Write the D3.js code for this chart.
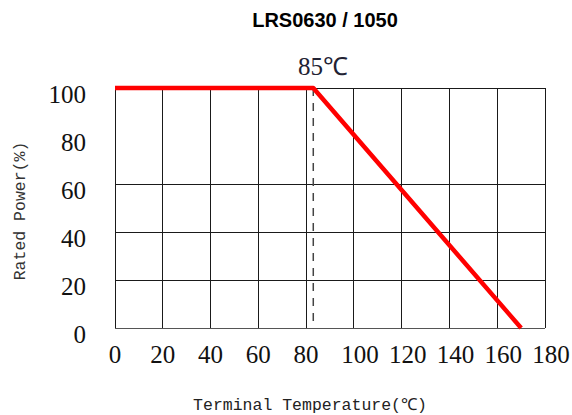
<!DOCTYPE html>
<html>
<head>
<meta charset="utf-8">
<script src="https://cdn.jsdelivr.net/npm/d3@7"></script>
<style>
  html, body { margin: 0; padding: 0; background: #fff; }
  svg { display: block; }
</style>
</head>
<body>
<svg id="chart" width="572" height="415"></svg>
<script>
const title = "LRS0630 / 1050";
const xTicks = [0, 20, 40, 60, 80, 100, 120, 140, 160, 180];
const yTicks = [0, 20, 40, 60, 80, 100];
const yGrid = [0, 20, 40, 60, 100];
const curveTemp = [0, 83, 170];
const curvePower = [100, 100, 0];
const kneeTemp = 83;
const kneeLabel = "85℃";
const xTitle = "Terminal Temperature(℃)";
const yTitle = "Rated Power(%)";

const svg = d3.select("#chart");
const x = d3.scaleLinear().domain([0, 180]).range([115, 545]);
const y = d3.scaleLinear().domain([0, 100]).range([328, 88]);

const serif = "'Liberation Serif', 'Times New Roman', serif";
const mono = "'Liberation Mono', 'DejaVu Sans Mono', monospace";

// title
svg.append("text")
  .attr("x", 325).attr("y", 27)
  .attr("text-anchor", "middle")
  .attr("font-family", "'Liberation Sans', Arial, sans-serif")
  .attr("font-weight", "bold")
  .attr("font-size", 20)
  .attr("fill", "#000")
  .text(title);

// vertical grid lines
svg.append("g").selectAll("line").data(xTicks).join("line")
  .attr("x1", d => x(d)).attr("x2", d => x(d))
  .attr("y1", y(100)).attr("y2", y(0))
  .attr("stroke", "#1a1a1a").attr("stroke-width", 1)
  .attr("shape-rendering", "crispEdges");

// horizontal grid lines
svg.append("g").selectAll("line").data(yGrid).join("line")
  .attr("x1", x(0)).attr("x2", x(180))
  .attr("y1", d => y(d)).attr("y2", d => y(d))
  .attr("stroke", d => d === 0 ? "#555" : "#1a1a1a").attr("stroke-width", 1)
  .attr("shape-rendering", "crispEdges");

// dashed knee line
svg.append("line")
  .attr("x1", x(kneeTemp)).attr("x2", x(kneeTemp))
  .attr("y1", y(100)).attr("y2", y(0))
  .attr("stroke", "#444").attr("stroke-width", 1.5)
  .attr("stroke-dasharray", "8,7");

// y tick labels
svg.append("g").selectAll("text").data(yTicks).join("text")
  .attr("x", 86).attr("y", d => y(d) + 15)
  .attr("text-anchor", "end")
  .attr("font-family", serif).attr("font-size", 25)
  .attr("fill", "#111")
  .text(d => d);

// x tick labels
svg.append("g").selectAll("text").data(xTicks).join("text")
  .attr("x", d => x(d) + (d >= 100 ? 6 : 0)).attr("y", y(0) + 35)
  .attr("text-anchor", "middle")
  .attr("font-family", serif).attr("font-size", 25)
  .attr("fill", "#111")
  .text(d => d);

// knee label
svg.append("text")
  .attr("x", 323).attr("y", 75)
  .attr("text-anchor", "middle")
  .attr("font-family", serif).attr("font-size", 25)
  .attr("fill", "#223")
  .text(kneeLabel);

// derating curve
const pts = curveTemp.map((t, i) => [t, curvePower[i]]);
svg.append("path")
  .datum(pts)
  .attr("d", d3.line().x(d => x(d[0])).y(d => y(d[1])))
  .attr("fill", "none")
  .attr("stroke", "#ff0000")
  .attr("stroke-width", 4.5)
  .attr("stroke-linejoin", "round");

// axis titles
svg.append("text")
  .attr("x", 310).attr("y", 410)
  .attr("text-anchor", "middle")
  .attr("font-family", mono).attr("font-size", 16.5)
  .attr("fill", "#222")
  .text(xTitle);

svg.append("text")
  .attr("transform", "translate(25,211) rotate(-90)")
  .attr("text-anchor", "middle")
  .attr("font-family", mono).attr("font-size", 16.5)
  .attr("fill", "#333")
  .text(yTitle);
</script>
</body>
</html>
